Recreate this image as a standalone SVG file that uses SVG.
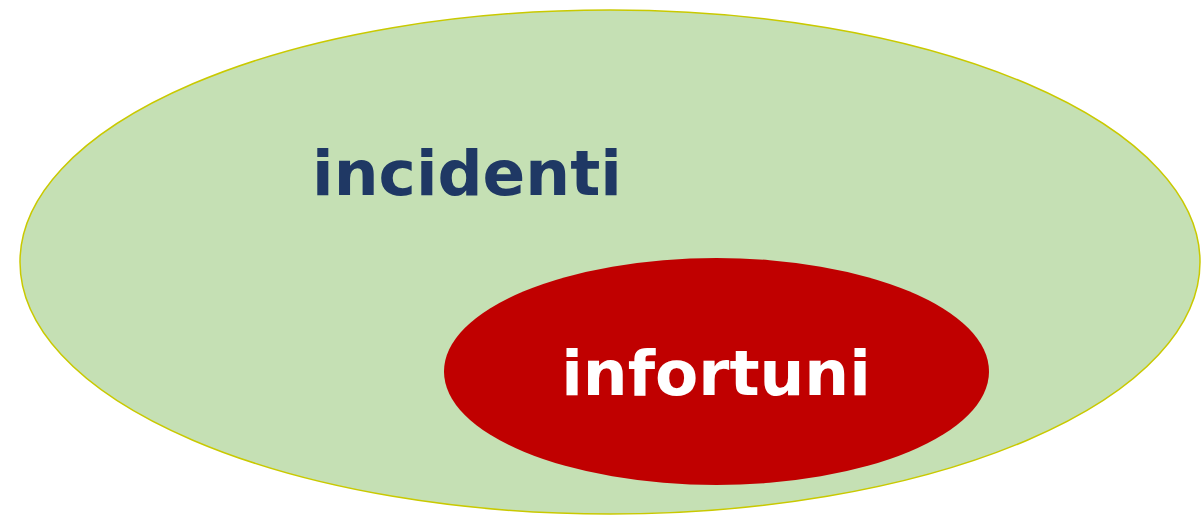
<svg xmlns="http://www.w3.org/2000/svg" width="1204" height="515" viewBox="0 0 1204 515">
<style>
.lbl{font-family:"DejaVu Sans",Verdana,sans-serif;font-weight:bold;font-size:63px;text-anchor:middle}
</style>
<rect width="1204" height="515" fill="#ffffff"/>
<g id="incidenti">
<ellipse cx="610" cy="262" rx="590" ry="252" fill="#c5e0b4" stroke="#c9c900" stroke-width="1.5"/>
<text class="lbl" x="467" y="195" fill="#1f3864">incidenti</text>
</g>
<g id="infortuni">
<ellipse cx="716.5" cy="371.5" rx="272.5" ry="113.5" fill="#c00000"/>
<text class="lbl" x="716" y="395" fill="#ffffff">infortuni</text>
</g>
<g id="connectors"/>
</svg>
